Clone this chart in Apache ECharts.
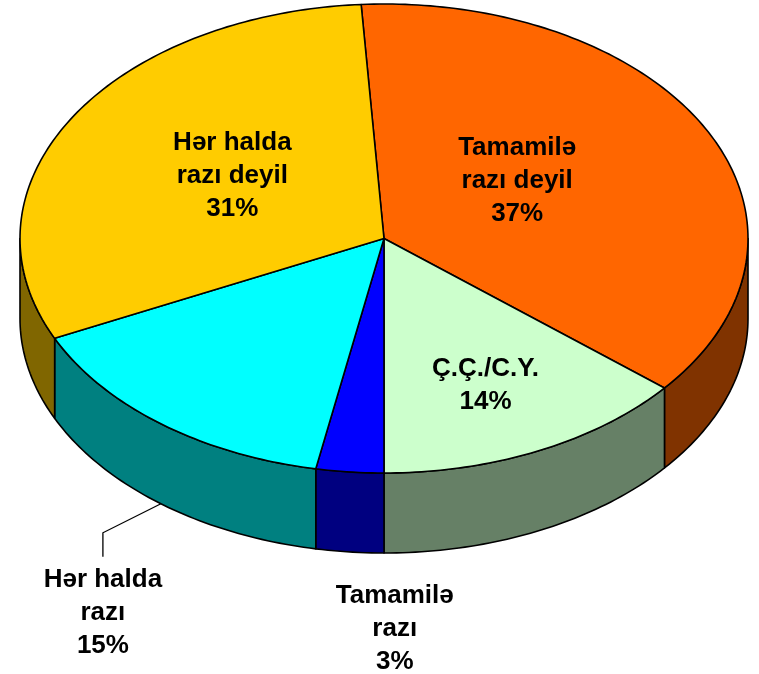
<!DOCTYPE html>
<html>
<head>
<meta charset="utf-8">
<script src="https://cdn.jsdelivr.net/npm/echarts@6/dist/echarts.min.js"></script>
<style>
  html, body { margin: 0; padding: 0; background: #fff; }
  #chart { width: 759px; height: 674px; }
</style>
</head>
<body>
<div id="chart"></div>
<script>
// slices, clockwise from the top
const categories = ['Tamamilə\nrazı deyil', 'Ç.Ç./C.Y.', 'Tamamilə\nrazı', 'Hər halda\nrazı', 'Hər halda\nrazı deyil'];
const values = [37, 14, 3, 15, 31];
const percentLabels = ['37%', '14%', '3%', '15%', '31%'];

const topColors = ['#FF6600', '#CCFFCC', '#0000FF', '#00FFFF', '#FFCC00'];
const sideColors = ['#803300', '#668066', '#000080', '#008080', '#806600'];

// pie geometry (ellipse seen from above at an angle)
const CX = 384, CY = 238.5, RX = 364, RY = 234.5, DEPTH = 80;
const START = -3.6 * Math.PI / 180;
// label placement: inside = on the top face, outside = below the wall
const labelMode = ['inside', 'inside', 'outside', 'leader', 'inside'];
const labelShift = [[-29, -4], [24, 41], [45, 77], [-58, 109], [5, -3]];

const total = values.reduce((a, b) => a + b, 0);
const starts = [];
let acc = 0;
values.forEach(v => { starts.push(START + acc / total * Math.PI * 2); acc += v; });

function pt(t, dz) {
  return [CX + RX * Math.sin(t), CY - RY * Math.cos(t) + (dz || 0)];
}
function arc(a, b, dz) {
  const n = Math.max(2, Math.ceil((b - a) / (Math.PI / 180)));
  const pts = [];
  for (let i = 0; i <= n; i++) pts.push(pt(a + (b - a) * i / n, dz));
  return pts;
}

const font = 'bold 26px "Liberation Sans", Arial, sans-serif';

function renderItem(params, api) {
  const i = params.dataIndex;
  const a = starts[i];
  const b = a + api.value(1) / total * Math.PI * 2;
  const children = [];

  // front wall (visible between 90 and 270 degrees)
  const s = Math.max(a, Math.PI / 2), e = Math.min(b, Math.PI * 1.5);
  if (s < e) {
    children.push({
      type: 'polygon',
      shape: { points: arc(s, e, 0).concat(arc(s, e, DEPTH).reverse()) },
      style: { fill: sideColors[i], stroke: '#000', lineWidth: 1.6, lineJoin: 'round' }
    });
  }
  // top face
  children.push({
    type: 'polygon',
    shape: { points: [[CX, CY]].concat(arc(a, b, 0)) },
    style: { fill: topColors[i], stroke: '#000', lineWidth: 1.6, lineJoin: 'round' }
  });

  const mid = (a + b) / 2;
  let lx, ly;
  if (labelMode[i] === 'inside') {
    lx = CX + RX * 0.5 * Math.sin(mid);
    ly = CY - RY * 0.5 * Math.cos(mid);
  } else {
    const p = pt(mid, DEPTH);
    lx = p[0]; ly = p[1];
    if (labelMode[i] === 'leader') {
      children.push({
        type: 'polyline',
        shape: { points: [p, [lx - 58, ly + 29], [lx - 58, ly + 53]] },
        style: { stroke: '#000', lineWidth: 1.3, fill: null }
      });
    }
  }
  children.push({
    type: 'text',
    z2: 10,
    style: {
      x: lx + labelShift[i][0],
      y: ly + labelShift[i][1],
      text: categories[i] + '\n' + percentLabels[i],
      font: font,
      fill: '#000',
      align: 'center',
      verticalAlign: 'middle',
      lineHeight: 33
    }
  });
  return { type: 'group', children: children };
}

const chart = echarts.init(document.getElementById('chart'));
chart.setOption({
  animation: false,
  backgroundColor: '#fff',
  series: [{
    type: 'custom',
    coordinateSystem: 'none',
    renderItem: renderItem,
    data: values.map((v, i) => [i, v])
  }]
});
</script>
</body>
</html>
